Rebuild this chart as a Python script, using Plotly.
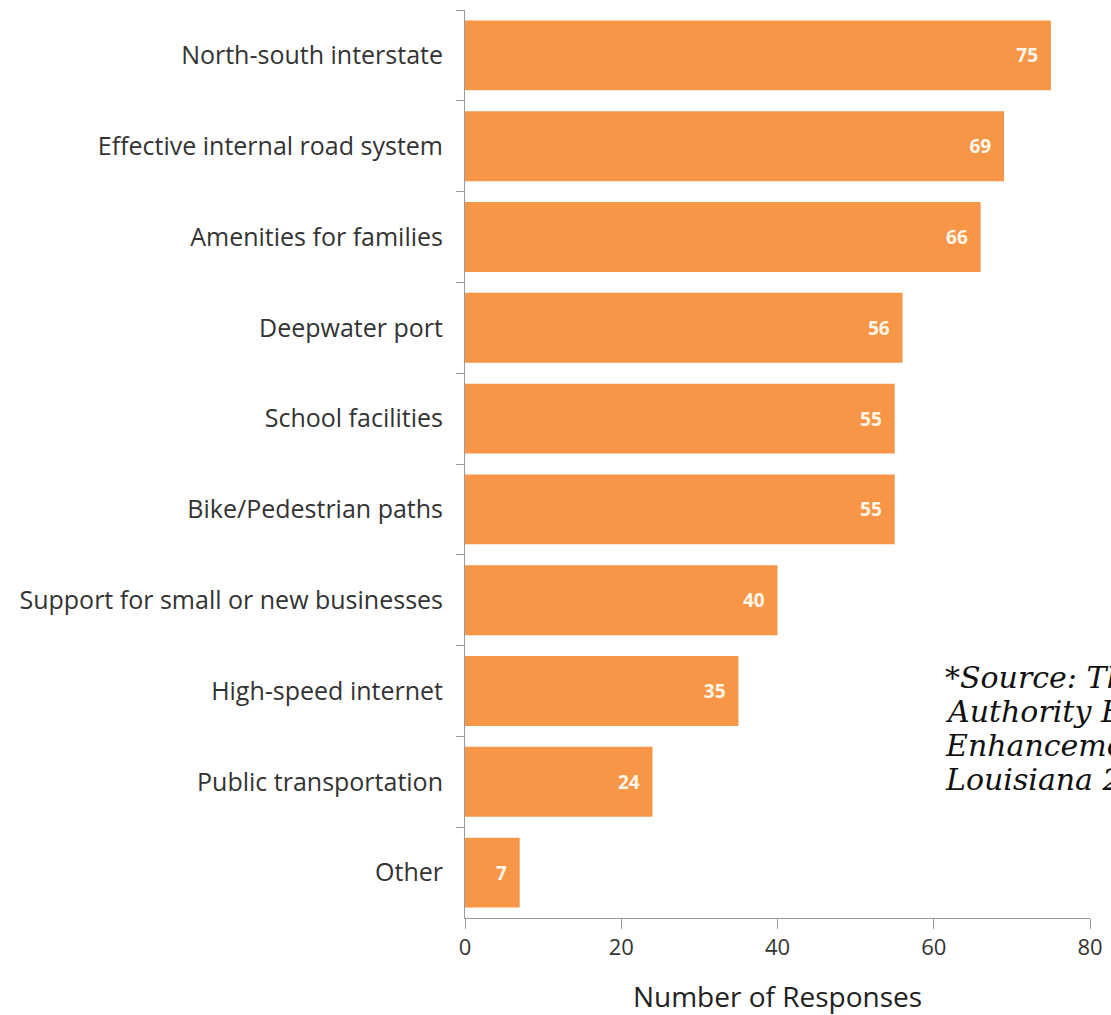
import plotly.graph_objects as go

categories = [
    "North-south interstate",
    "Effective internal road system",
    "Amenities for families",
    "Deepwater port",
    "School facilities",
    "Bike/Pedestrian paths",
    "Support for small or new businesses",
    "High-speed internet",
    "Public transportation",
    "Other",
]
responses = [75, 69, 66, 56, 55, 55, 40, 35, 24, 7]
x_ticks = [0, 20, 40, 60, 80]
source_lines = ["*Source: The Port", "Authority Economic", "Enhancement Study,", "Louisiana 2019"]

fig = go.Figure()
fig.add_trace(go.Bar(
    y=categories,
    x=responses,
    orientation="h",
    marker=dict(color="#F79646", line=dict(width=0)),
    text=[f"{v}  " for v in responses],
    textposition="inside",
    insidetextanchor="end",
    textfont=dict(family="Open Sans, sans-serif", size=19, color="#FFF6EA", weight="bold"),
    cliponaxis=False,
))

fig.update_layout(
    width=1111, height=1015,
    margin=dict(l=465, r=21, t=10, b=97),
    plot_bgcolor="white", paper_bgcolor="white",
    bargap=0.23,
    showlegend=False,
    font=dict(family="Open Sans, sans-serif", color="#333333"),
)
fig.update_yaxes(
    type="category",
    categoryorder="array", categoryarray=categories,
    autorange="reversed",
    automargin=False,
    tickson="boundaries",
    ticks="outside", ticklen=8, tickcolor="#9a9a9a", tickwidth=1,
    showline=True, linecolor="#9a9a9a", linewidth=1,
    showgrid=False, zeroline=False,
    tickfont=dict(size=25, color="#333333"),
    ticklabelstandoff=16,
)
fig.update_xaxes(
    range=[0, 80],
    tickvals=x_ticks,
    automargin=False,
    ticks="outside", ticklen=10, tickcolor="#9a9a9a", tickwidth=1,
    showline=True, linecolor="#9a9a9a", linewidth=1,
    showgrid=False, zeroline=False,
    tickfont=dict(size=22, color="#333333"),
    title=dict(text="Number of Responses", font=dict(size=28, color="#222222"), standoff=27),
)
for i, line in enumerate(source_lines):
    fig.add_annotation(
        xref="paper", yref="paper",
        x=0.765, y=0.2654,
        xanchor="left", yanchor="middle",
        yshift=-34 * i,
        text=f"<i>{line}</i>",
        showarrow=False,
        align="left",
        font=dict(family="Georgia, 'DejaVu Serif', serif", size=30, color="#111111"),
    )

fig.write_html("out.html")
